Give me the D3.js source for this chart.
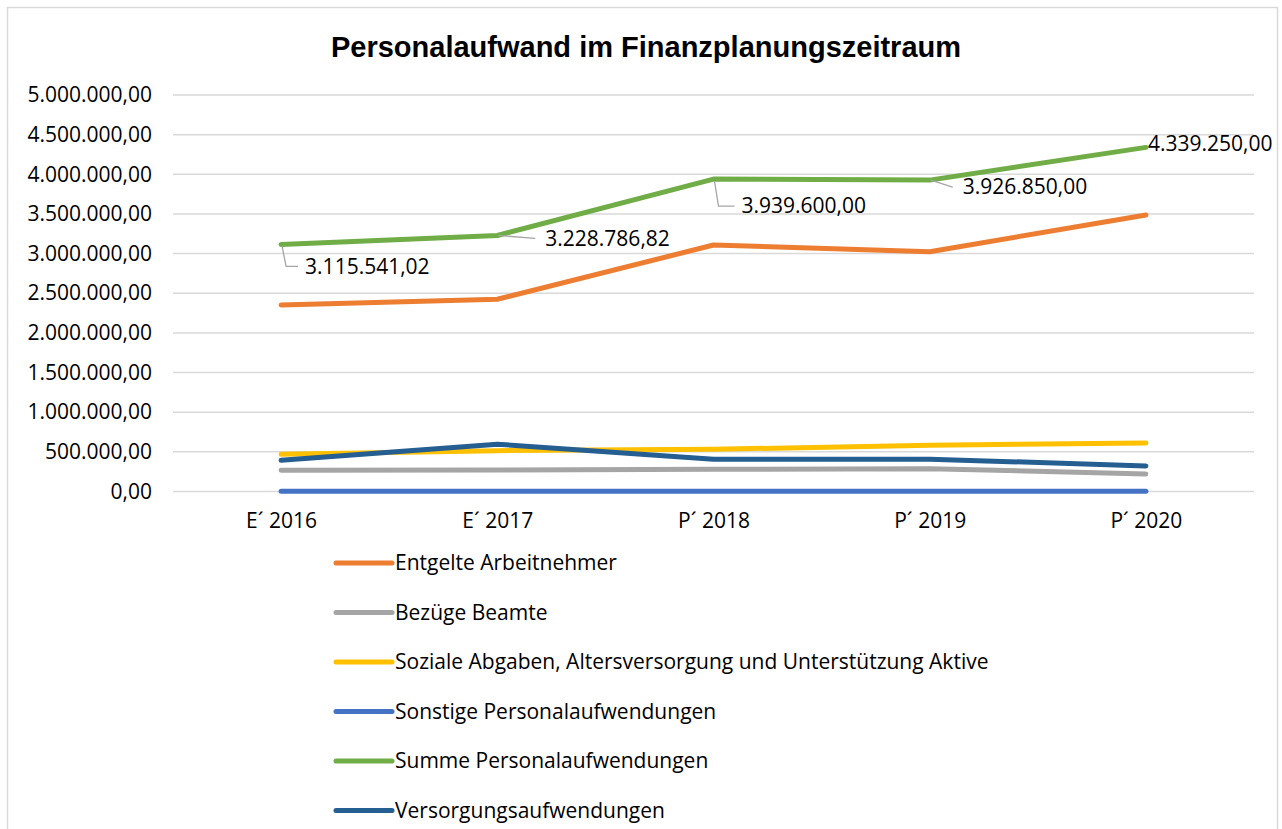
<!DOCTYPE html>
<html>
<head>
<meta charset="utf-8">
<script src="https://cdn.jsdelivr.net/npm/d3@7"></script>
<style>
  body { margin: 0; background: #fff; }
  text { font-family: "Open Sans", sans-serif; fill: #000; }
</style>
</head>
<body>
<div id="chart"></div>
<script>
// categories and series
const categories = ["E´ 2016", "E´ 2017", "P´ 2018", "P´ 2019", "P´ 2020"];
const seriesNames = [
  "Entgelte Arbeitnehmer",
  "Bezüge Beamte",
  "Soziale Abgaben, Altersversorgung und Unterstützung Aktive",
  "Sonstige Personalaufwendungen",
  "Summe Personalaufwendungen",
  "Versorgungsaufwendungen"
];
const entgelte   = [2352000, 2424000, 3108000, 3024000, 3487000];
const bezuege    = [267000, 272000, 280000, 288000, 221000];
const soziale    = [469000, 515000, 532000, 583000, 612000];
const sonstige   = [2500, 2500, 2500, 2500, 2500];
const summe      = [3115541.02, 3228786.82, 3939600.00, 3926850.00, 4339250.00];
const versorgung = [393000, 597000, 406000, 408000, 323000];
const yTicks = [0, 500000, 1000000, 1500000, 2000000, 2500000, 3000000, 3500000, 4000000, 4500000, 5000000];

const colors = ["#ED7D31", "#A5A5A5", "#FFC000", "#4472C4", "#70AD47", "#255E91"];
const allSeries = [entgelte, bezuege, soziale, sonstige, summe, versorgung];

const W = 1282, H = 829;
const FS = "21px";
const svg = d3.select("#chart").append("svg")
  .attr("width", W)
  .attr("height", H);

// chart frame
svg.append("rect")
  .attr("x", 7.5).attr("y", 7.5)
  .attr("width", 1270).attr("height", 840)
  .attr("fill", "#fff")
  .attr("stroke", "#d9d9d9")
  .attr("stroke-width", 1.5);

svg.append("text")
  .attr("x", 646).attr("y", 57)
  .attr("text-anchor", "middle")
  .style("font-family", "'Liberation Sans', Arial, sans-serif")
  .style("font-weight", "bold")
  .style("font-size", "29px")
  .text("Personalaufwand im Finanzplanungszeitraum");

const x = d3.scalePoint().domain(categories).range([173, 1254]).padding(0.5);
const y = d3.scaleLinear().domain([0, 5000000]).range([491.5, 95]);

const de = d3.formatLocale({ decimal: ",", thousands: ".", grouping: [3], currency: ["", " €"] });
const fmt = de.format(",.2f");

// gridlines
svg.append("g")
  .selectAll("line")
  .data(yTicks)
  .enter()
  .append("line")
  .attr("x1", 173).attr("x2", 1254)
  .attr("y1", d => y(d)).attr("y2", d => y(d))
  .attr("stroke", "#d9d9d9")
  .attr("stroke-width", 1.5);

// y axis labels
let yAxis = svg.append("g")
  .attr("transform", "translate(152,0)")
  .call(d3.axisLeft(y).tickValues(yTicks).tickFormat(fmt).tickSize(0).tickPadding(0));
yAxis.select(".domain").remove();
yAxis.selectAll("text")
  .style("font-family", "'Open Sans', sans-serif")
  .style("font-size", FS)
  .attr("fill", "#000");

// x axis labels
let xAxis = svg.append("g")
  .attr("transform", "translate(0,513)")
  .call(d3.axisBottom(x).tickSize(0).tickPadding(0));
xAxis.select(".domain").remove();
xAxis.selectAll("text")
  .style("font-family", "'Open Sans', sans-serif")
  .style("font-size", FS)
  .attr("fill", "#000");

// lines
const line = d3.line()
  .x((d, i) => x(categories[i]))
  .y(d => y(d));

svg.append("g")
  .selectAll("path")
  .data(allSeries)
  .enter()
  .append("path")
  .attr("d", d => line(d))
  .attr("fill", "none")
  .attr("stroke", (d, i) => colors[i])
  .attr("stroke-width", 5)
  .attr("stroke-linecap", "round")
  .attr("stroke-linejoin", "round");

// data labels on the sum line, with leader lines
const labelOffsets = [
  { dx: 24, dy: 22, leader: "v" },
  { dx: 48, dy: 3, leader: "h" },
  { dx: 28, dy: 27, leader: "v" },
  { dx: 33, dy: 7, leader: "h" },
  { dx: 2, dy: -4, leader: "none" }
];

let labels = svg.append("g");
summe.forEach((v, i) => {
  let px = x(categories[i]), py = y(v);
  let o = labelOffsets[i];
  let tx = px + o.dx, ty = py + o.dy;
  if (o.leader == "v") {
    labels.append("path")
      .attr("d", "M" + (px + 1) + "," + (py + 2) + "L" + (px + 5) + "," + ty + "L" + (tx - 7) + "," + ty)
      .attr("fill", "none")
      .attr("stroke", "#a6a6a6")
      .attr("stroke-width", 1.3);
  }
  else if (o.leader == "h") {
    labels.append("path")
      .attr("d", "M" + (px + 1) + "," + py + "L" + (tx - 10) + "," + ty)
      .attr("fill", "none")
      .attr("stroke", "#a6a6a6")
      .attr("stroke-width", 1.3);
  }
  labels.append("text")
    .attr("x", tx).attr("y", ty)
    .attr("dy", "0.35em")
    .style("font-size", FS)
    .text(fmt(v));
});

// legend
let legend = svg.append("g")
  .selectAll("g")
  .data(seriesNames)
  .enter()
  .append("g")
  .attr("transform", (d, i) => "translate(336," + (563 + i * 49.5) + ")");
legend.append("line")
  .attr("x1", 0).attr("x2", 56)
  .attr("y1", 0).attr("y2", 0)
  .attr("stroke", (d, i) => colors[i])
  .attr("stroke-width", 5)
  .attr("stroke-linecap", "round");
legend.append("text")
  .attr("x", 59).attr("y", 0)
  .attr("dy", "0.35em")
  .style("font-size", FS)
  .text(d => d);
</script>
</body>
</html>
